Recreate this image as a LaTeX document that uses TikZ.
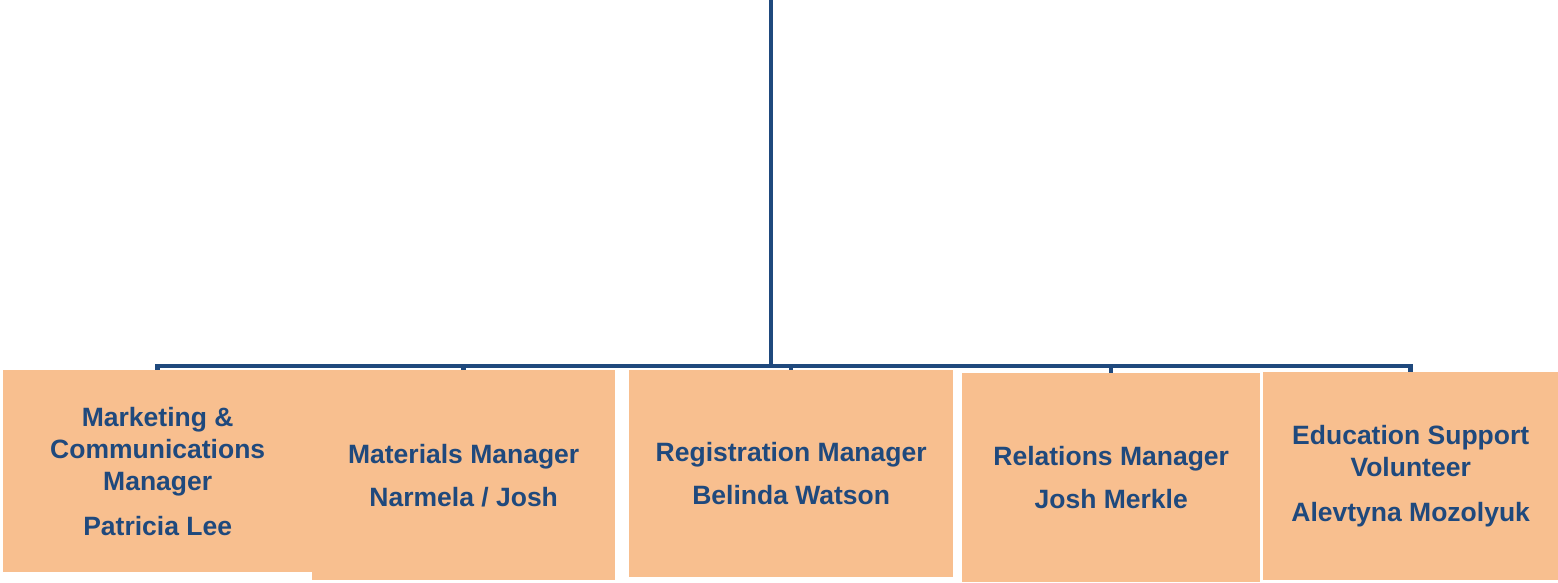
\documentclass[tikz,border=0pt]{standalone}
\usepackage{fontspec}
\setmainfont{Liberation Sans}
\usetikzlibrary{positioning}

\definecolor{peach}{HTML}{F8BF8F}
\definecolor{navy}{HTML}{1F497D}

\tikzset{
  rolebox/.style={fill=peach, inner sep=0pt, align=center, anchor=north west,
    text=navy, font=\fontsize{26.5}{32}\selectfont\bfseries},
  conn/.style={draw=navy, line width=4.5pt}
}

\begin{document}
\begin{tikzpicture}[x=1pt, y=-1pt]
  \useasboundingbox (0,0) rectangle (1558,582);
  \node[rolebox, minimum width=309pt, minimum height=202pt] (mkt) at (3,370)
    {Marketing \&\\Communications\\Manager\\[13pt]Patricia Lee};
  \node[rolebox, minimum width=303pt, minimum height=210pt] (mat) at (312,370)
    {Materials Manager\\[11pt]Narmela / Josh};
  \node[rolebox, minimum width=324pt, minimum height=207pt] (reg) at (629,370)
    {Registration Manager\\[11pt]Belinda Watson};
  \node[rolebox, minimum width=298pt, minimum height=209pt] (rel) at (962,373)
    {Relations Manager\\[11pt]Josh Merkle};
  \node[rolebox, minimum width=295pt, minimum height=208pt] (edu) at (1263,372)
    {Education Support\\Volunteer\\[13pt]Alevtyna Mozolyuk};
  \coordinate (top) at (771,0);
  \coordinate (bus) at (771,366);
  \draw[conn] (top) -- (bus);
  \foreach \b in {mkt,mat,reg,rel,edu}
    \draw[conn] (bus) -| (\b.north);
\end{tikzpicture}
\end{document}
